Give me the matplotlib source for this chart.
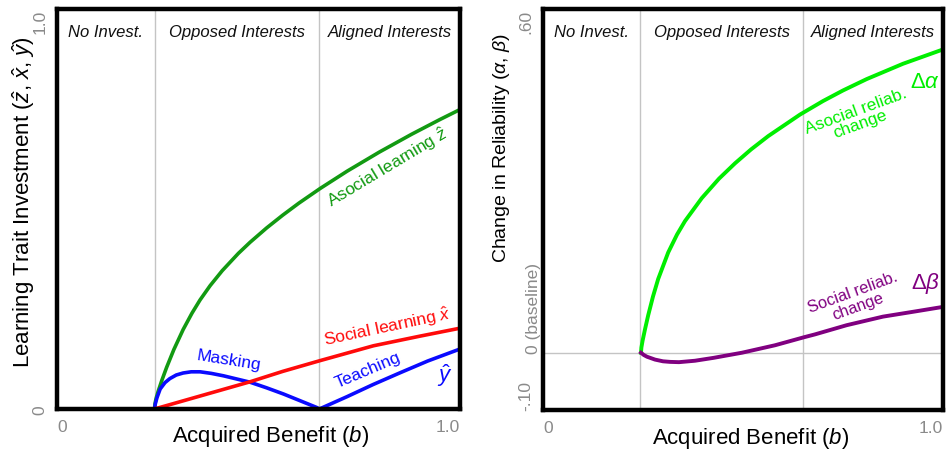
import matplotlib
matplotlib.use("Agg")
import matplotlib.pyplot as plt

plt.rcParams['font.family'] = ['Liberation Sans', 'DejaVu Sans']
plt.rcParams['mathtext.fontset'] = 'custom'
plt.rcParams['mathtext.rm'] = 'Liberation Sans'
plt.rcParams['mathtext.it'] = 'Liberation Sans:italic'
plt.rcParams['mathtext.bf'] = 'Liberation Sans:bold'

# ---------------- data ----------------
region_bounds = [0.242, 0.651]
region_names = ["No Invest.", "Opposed Interests", "Aligned Interests"]

b_z = [0.242, 0.243, 0.246, 0.251, 0.260, 0.272, 0.290, 0.313, 0.335, 0.355, 0.380, 0.410,
       0.450, 0.479, 0.520, 0.560, 0.600, 0.653, 0.720, 0.800, 0.880, 0.950, 1.0]
z_hat = [0.0, 0.0125, 0.0267, 0.0441, 0.0711, 0.104, 0.1487, 0.1986, 0.2397, 0.2727, 0.3084,
         0.3458, 0.389, 0.4167, 0.4525, 0.4845, 0.5145, 0.5513, 0.5946, 0.6424, 0.6869, 0.7236,
         0.7487]

b_x = [0.242, 0.350, 0.479, 0.560, 0.653, 0.785, 0.900, 1.0]
x_hat = [0.0, 0.031, 0.068, 0.094, 0.121, 0.158, 0.182, 0.202]

b_y = [0.242, 0.244, 0.248, 0.256, 0.268, 0.280, 0.296, 0.313, 0.333, 0.355, 0.383, 0.413, 0.446,
       0.479, 0.520, 0.562, 0.600, 0.644, 0.651, 0.720, 0.784, 0.850, 0.920, 1.0]
y_hat = [0.0, 0.013, 0.028, 0.050, 0.066, 0.076, 0.085, 0.090, 0.093, 0.093, 0.089, 0.083, 0.075,
         0.067, 0.053, 0.0375, 0.022, 0.004, 0.0, 0.031, 0.061, 0.090, 0.120, 0.150]

b_a = [0.245, 0.246, 0.249, 0.255, 0.263, 0.275, 0.288, 0.313, 0.335, 0.355, 0.397, 0.440,
       0.480, 0.520, 0.563, 0.6425, 0.700, 0.750, 0.809, 0.900, 1.0]
d_alpha = [0.0, 0.0091, 0.0211, 0.0409, 0.0654, 0.0982, 0.1288, 0.175, 0.2062, 0.2298, 0.2699,
           0.3038, 0.3306, 0.3548, 0.3781, 0.4157, 0.4393, 0.4578, 0.4776, 0.5044, 0.5294]

b_b = [0.245, 0.252, 0.260, 0.280, 0.300, 0.3175, 0.340, 0.380, 0.426, 0.4975, 0.580, 0.6525,
       0.680, 0.759, 0.850, 0.930, 1.0]
d_beta = [0.0, -0.004, -0.007, -0.012, -0.015, -0.016, -0.0165, -0.014, -0.009, 0.0, 0.013,
          0.027, 0.032, 0.048, 0.063, 0.072, 0.080]

x_ticks = [0, 1.0]
x_ticklabels = ["0", "1.0"]
left_yticks = [0, 1.0]
left_yticklabels = ["0", "1.0"]
right_yticks = [-0.10, 0, 0.60]
right_yticklabels = ["-.10", "0 (baseline)", ".60"]

# ---------------- figure ----------------
fig = plt.figure(figsize=(9.5, 4.52), dpi=100)
W, H = 950, 452
axL = fig.add_axes([57 / W, (H - 410) / H, 403 / W, 400 / H])
axR = fig.add_axes([543 / W, (H - 411) / H, 400 / W, 401 / H])

TICK_GRAY = '#8a8a8a'
GRID_GRAY = '#c4c4c4'


def style_axes(ax, ylim):
    ax.set_xlim(0, 1.0)
    ax.set_ylim(*ylim)
    for s in ax.spines.values():
        s.set_linewidth(3.2)
        s.set_color('black')
        s.set_zorder(10)
    ax.tick_params(length=0, colors=TICK_GRAY, labelsize=12.5, pad=7)
    ax.set_xticks(x_ticks)
    ax.set_xticklabels(x_ticklabels)
    xl = ax.get_xticklabels()
    xl[0].set_ha('left')
    xl[-1].set_ha('right')
    for b in region_bounds:
        ax.axvline(b, color=GRID_GRAY, lw=1.0, zorder=1)
    edges = [0.0] + region_bounds + [1.0]
    for i, name in enumerate(region_names):
        cx = (edges[i] + edges[i + 1]) / 2
        ax.text(cx, 0.943, name, transform=ax.get_xaxis_transform(), ha='center', va='center',
                fontsize=12, style='italic', color='#111111')
    ax.set_xlabel("Acquired Benefit ($b$)", fontsize=16, va='center')


# ----- left panel -----
style_axes(axL, (0, 1.0))
axL.plot(b_z, z_hat, color='#129a12', lw=2.6, zorder=3)
axL.plot(b_y, y_hat, color='#0a0aff', lw=2.6, zorder=3)
axL.plot(b_x, x_hat, color='#ff0a0a', lw=2.6, zorder=4)
axL.set_yticks(left_yticks)
axL.set_yticklabels(left_yticklabels, rotation=90)
yl = axL.get_yticklabels()
yl[0].set_va('center')
yl[-1].set_va('top')
axL.set_ylabel("Learning Trait Investment ($\\hat{z}$, $\\hat{x}$, $\\hat{y}$)", fontsize=16,
               va='center', ha='center')
axL.yaxis.set_label_coords(-0.082, 0.52)
axL.xaxis.set_label_coords(0.53, -0.0675)

lab = dict(ha='center', va='center', rotation_mode='anchor', fontsize=12.5)
axL.text(0.821, 0.605, "Asocial learning $\\hat{z}$", color='#129a12', rotation=31, **lab)
axL.text(0.821, 0.2075, "Social learning $\\hat{x}$", color='#ff0a0a', rotation=12, **lab)
axL.text(0.427, 0.1225, "Masking", color='#0a0aff', rotation=-9, **lab)
axL.text(0.772, 0.100, "Teaching", color='#0a0aff', rotation=23, **lab)
axL.text(0.963, 0.085, "$\\hat{y}$", color='#0a0aff', ha='center', va='center', fontsize=16)

# ----- right panel -----
style_axes(axR, (-0.10, 0.60))
axR.axhline(0, color=GRID_GRAY, lw=1.0, zorder=1)
axR.plot(b_a, d_alpha, color='#00ee00', lw=2.8, zorder=3)
axR.plot(b_b, d_beta, color='#800080', lw=2.8, zorder=3)
axR.set_yticks(right_yticks)
axR.set_yticklabels(right_yticklabels, rotation=90)
rl = axR.get_yticklabels()
rl[0].set_va('bottom')
rl[1].set_va('center')
rl[1].set_rotation_mode('anchor')
rl[1].set_ha('left')
rl[2].set_va('top')
axR.set_ylabel("Change in Reliability ($\\alpha$, $\\beta$)", fontsize=14, va='center', ha='center')
axR.yaxis.set_label_coords(-0.1025, 0.655)
axR.xaxis.set_label_coords(0.52, -0.0675)

lab2 = dict(ha='center', va='center', rotation_mode='anchor', multialignment='center',
            linespacing=0.95)
axR.text(0.7875, 0.412, "Asocial reliab.\nchange", color='#00ee00', rotation=20, fontsize=12.3, **lab2)
axR.text(0.955, 0.473, "$\\Delta\\alpha$", color='#00ee00', ha='center', va='center', fontsize=16)
axR.text(0.780, 0.094, "Social reliab.\nchange", color='#800080', rotation=20, fontsize=11.8, **lab2)
axR.text(0.9575, 0.122, "$\\Delta\\beta$", color='#800080', ha='center', va='center', fontsize=16)

fig.savefig("out.png", dpi=100)
